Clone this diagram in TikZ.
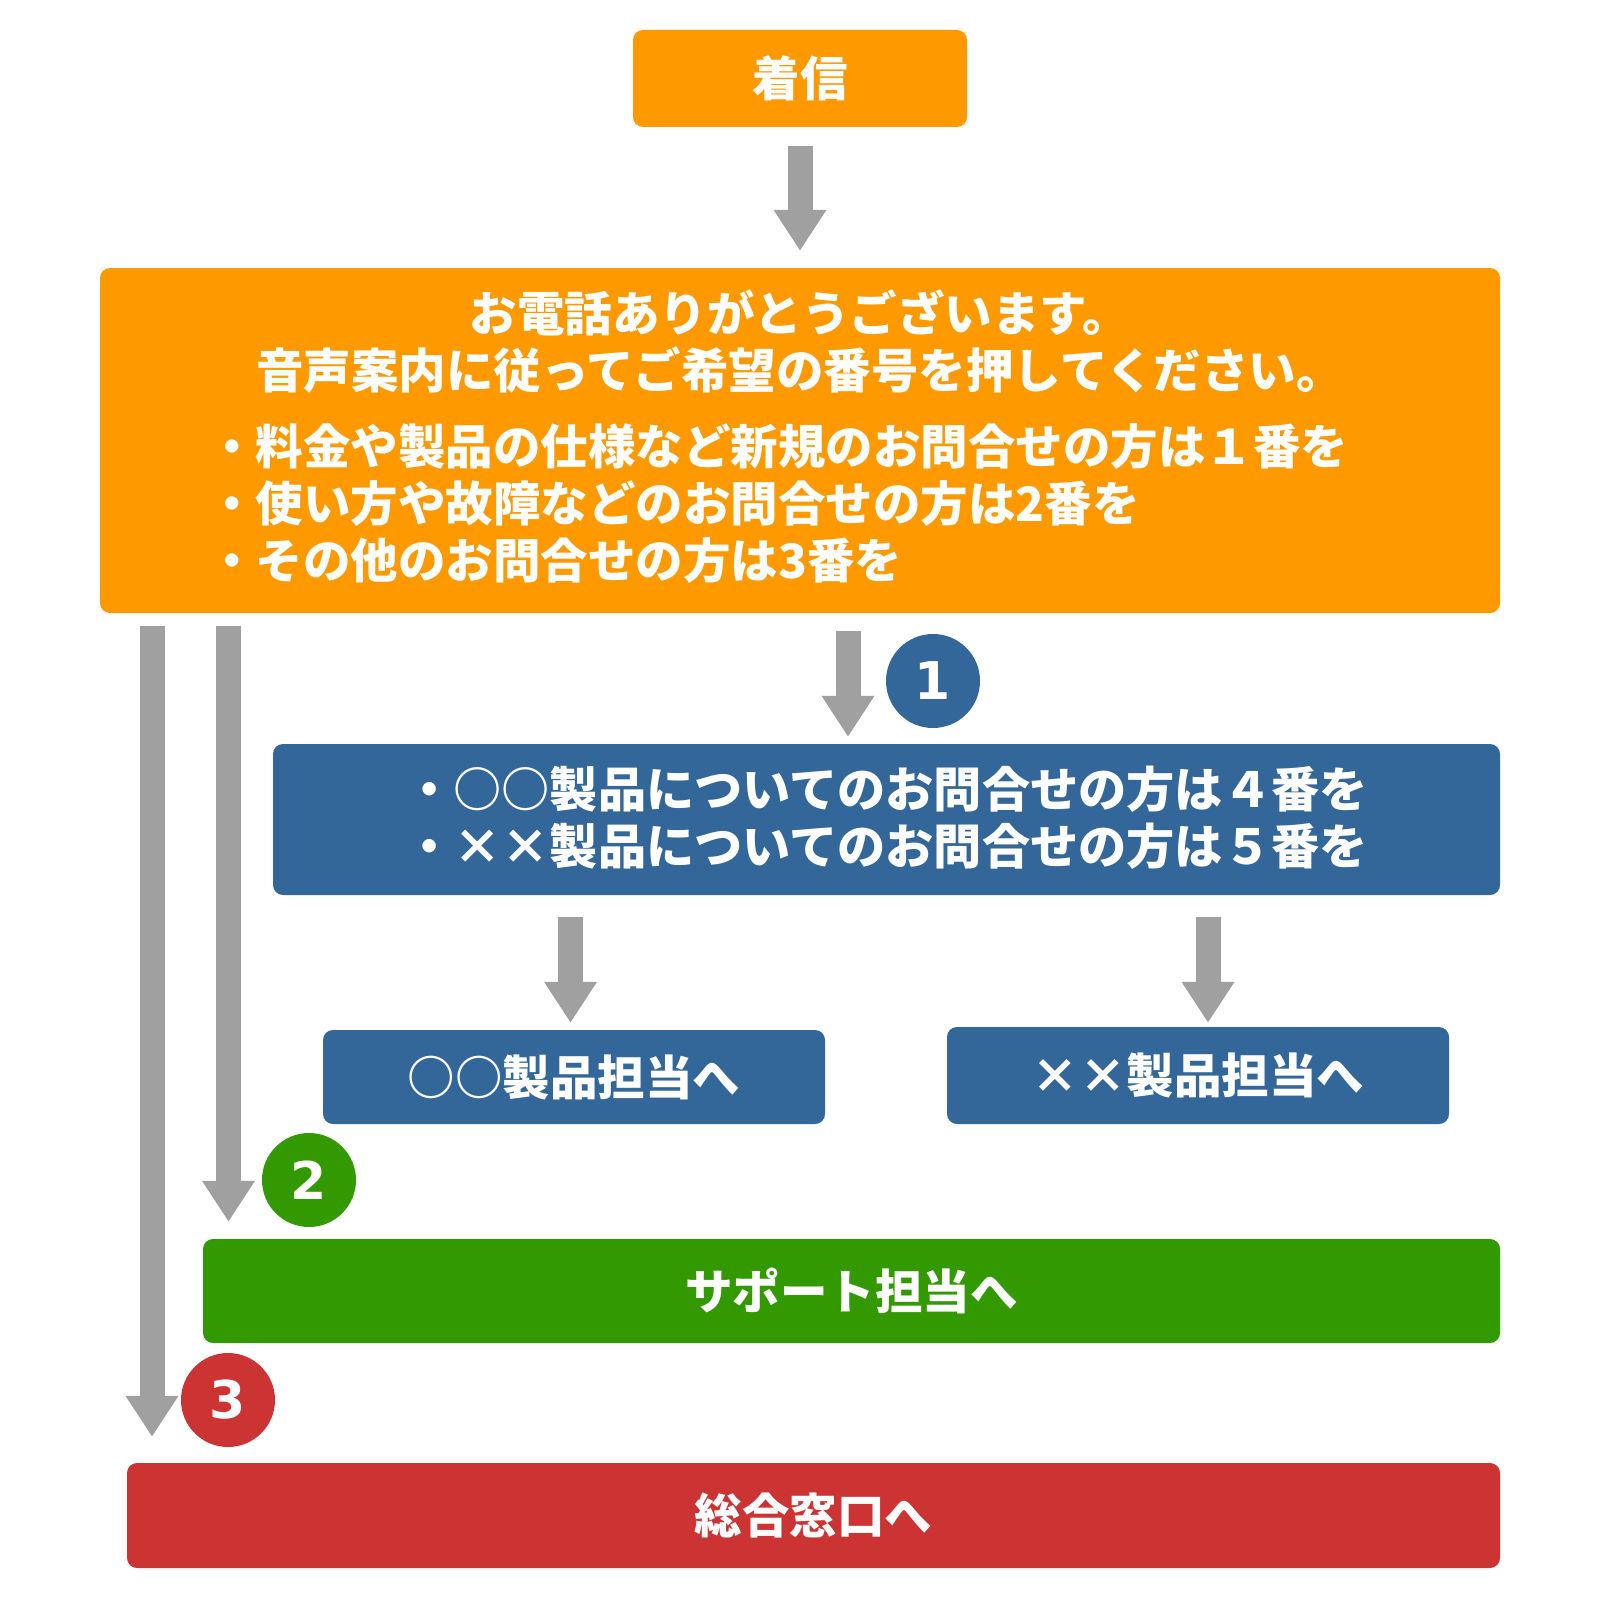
\documentclass[tikz,border=0pt]{standalone}
\usepackage{fontspec}
\newfontfamily\jpfont{Noto Sans CJK JP}
\newfontfamily\numfont{DejaVu Sans}
\usetikzlibrary{arrows.meta,calc}
\definecolor{callorange}{HTML}{FF9900}
\definecolor{menublue}{HTML}{336699}
\definecolor{supgreen}{HTML}{339900}
\definecolor{genred}{HTML}{CC3333}
\definecolor{arrgray}{HTML}{A0A0A0}

\begin{document}
\begin{tikzpicture}[
  x=1pt,y=-1pt,
  box/.style={rounded corners=10pt,inner sep=0pt,text=white,font=\jpfont\bfseries\fontsize{47.5pt}{57pt}\selectfont},
  txt/.style={inner sep=0pt,text=white,font=\jpfont\bfseries\fontsize{47.5pt}{57pt}\selectfont},
  num/.style={circle,inner sep=0pt,minimum size=94pt,text=white,font=\numfont\bfseries\fontsize{52pt}{52pt}\selectfont},
  arr/.style={draw=arrgray,line width=25pt,-{Triangle[length=41pt,width=50pt]}}
]
  \path[use as bounding box,fill=white] (0,0) rectangle (1600,1600);
  % boxes
  \node[box,fill=callorange,minimum width=334pt,minimum height=97pt] (call) at (800,78.5) {着信};
  \node[box,fill=callorange,minimum width=1400pt,minimum height=345pt] (guide) at (800,440.5) {};
  \node[txt,align=center] (guidehead) at (800,341.5) {お電話ありがとうございます。\\音声案内に従ってご希望の番号を押してください。};
  \node[txt,align=left,anchor=west] (guidelist) at (208,504) {・料金や製品の仕様など新規のお問合せの方は１番を\\・使い方や故障などのお問合せの方は2番を\\・その他のお問合せの方は3番を};
  \node[box,fill=menublue,minimum width=1227pt,minimum height=151pt] (menu) at (886.5,819.5) {};
  \node[txt,align=left,anchor=west,font=\jpfont\bfseries\fontsize{48.2pt}{57pt}\selectfont] (menulist) at (405,818) {・○○製品についてのお問合せの方は４番を\\・××製品についてのお問合せの方は５番を};
  \node[box,fill=menublue,minimum width=502pt,minimum height=94pt] (prodA) at (574,1077) {○○製品担当へ};
  \node[box,fill=menublue,minimum width=502pt,minimum height=97pt] (prodB) at (1198,1075.5) {××製品担当へ};
  \node[box,fill=supgreen,minimum width=1297pt,minimum height=104pt] (support) at (851.5,1291) {サポート担当へ};
  \node[box,fill=genred,minimum width=1373pt,minimum height=105pt] (general) at (813.5,1515.5) {総合窓口へ};
  % numbers
  \node[num,fill=menublue] (n1) at (933,681) {1};
  \node[num,fill=supgreen] (n2) at (309,1180) {2};
  \node[num,fill=genred] (n3) at (228,1400) {3};
  % arrows
  \draw[arr,shorten <=19pt,shorten >=17pt] (call) -- (guide);
  \draw[arr,shorten <=18pt,shorten >=7pt] ([xshift=48pt]guide.south) -- ([xshift=-38.5pt]menu.north);
  \draw[arr,shorten <=22pt,shorten >=7pt] ([xshift=-3.5pt]prodA.north |- menu.south) -- ([xshift=-3.5pt]prodA.north);
  \draw[arr,shorten <=22pt,shorten >=4pt] ([xshift=10pt]prodB.north |- menu.south) -- ([xshift=10pt]prodB.north);
  \coordinate (s2) at ([xshift=-571.5pt]guide.south);
  \coordinate (s3) at ([xshift=-648pt]guide.south);
  \draw[arr,shorten <=13pt,shorten >=17pt] (s2) -- (s2 |- support.north);
  \draw[arr,shorten <=13pt,shorten >=26pt] (s3) -- (s3 |- general.north);
\end{tikzpicture}
\end{document}
